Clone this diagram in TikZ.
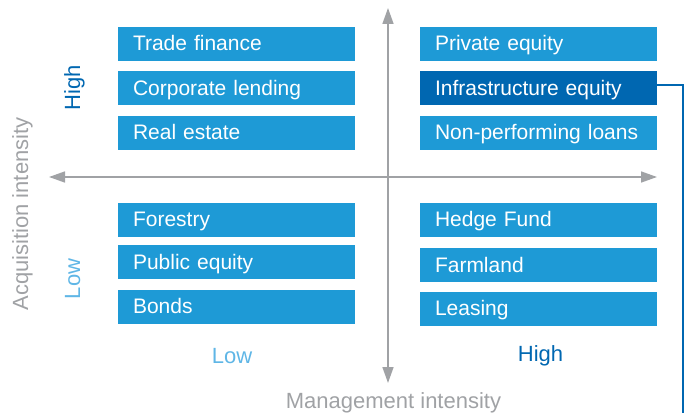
\documentclass[tikz,border=0pt]{standalone}
\usepackage{fontspec}
\setmainfont{Liberation Sans}
\usepackage{tikz}
\usetikzlibrary{arrows.meta, positioning}
\definecolor{qblue}{RGB}{30,154,214}
\definecolor{qdark}{RGB}{0,103,177}
\definecolor{qlight}{RGB}{95,182,230}
\definecolor{qgray}{RGB}{160,162,165}
\tikzset{
  %% ---- boxes ----
  asset/.style    = {rectangle, fill=#1, text=white,
                     text width=207pt, inner xsep=15pt, inner ysep=0pt,
                     align=left, text height=17pt, text depth=3pt,
                     minimum height=34pt, font=\fontsize{21}{25}\selectfont},
  asset/.default  = qblue,
  %% ---- labels ----
  level/.style    = {text=#1, inner sep=0pt, anchor=base,
                     font=\fontsize{22}{26}\selectfont},
  axislabel/.style= {text=qgray, inner sep=0pt, anchor=base,
                     font=\fontsize{22}{26}\selectfont},
  %% ---- lines ----
  axis/.style     = {{Triangle[length=16pt,width=11pt]}-{Triangle[length=16pt,width=11pt]},
                     line width=1.5pt, color=qgray},
  link/.style     = {line width=1.3pt, color=qdark},
}
\begin{document}
\begin{tikzpicture}[x=1pt, y=1pt]

  \useasboundingbox (0,0) rectangle (691,413);

  %% Axes
  \coordinate (west)  at (49,236);
  \coordinate (east)  at (657,236);
  \coordinate (north) at (388,405);
  \coordinate (south) at (388,30);
  \draw[axis] (west) -- (east);
  \draw[axis] (north) -- (south);

  %% High acquisition, low management
  \node[asset] (trade) at (236.5,369) {Trade finance};
  \node[asset, below=10pt of trade] (corp) {Corporate lending};
  \node[asset, below=10pt of corp] (estate) {Real estate};

  %% High acquisition, high management
  \node[asset] (private) at (538.5,369) {Private equity};
  \node[asset=qdark, below=10pt of private] (infra) {Infrastructure equity};
  \node[asset, below=10pt of infra] (npl) {Non-performing loans};

  %% Low acquisition, low management
  \node[asset] (forest) at (236.5,193) {Forestry};
  \node[asset, below=8pt of forest] (public) {Public equity};
  \node[asset, below=10pt of public] (bonds) {Bonds};

  %% Low acquisition, high management
  \node[asset] (hedge) at (538.5,193) {Hedge Fund};
  \node[asset, below=11pt of hedge] (farm) {Farmland};
  \node[asset, below=9pt of farm] (leasing) {Leasing};

  %% Highlight link
  \coordinate (drop) at (683,0);
  \draw[link] ([yshift=3.5pt]infra.east) -| (drop);

  %% Axis labels
  \node[level=qdark, rotate=90] (yhigh) at (80,325.5) {High};
  \node[level=qlight, rotate=90] (ylow) at (80,134) {Low};
  \node[axislabel, rotate=90] (ytitle) at (28,199) {Acquisition intensity};
  \node[level=qlight] (xlow) at (232,50) {Low};
  \node[level=qdark] (xhigh) at (540.5,51.5) {High};
  \node[axislabel] (xtitle) at (393.5,5) {Management intensity};

\end{tikzpicture}
\end{document}
